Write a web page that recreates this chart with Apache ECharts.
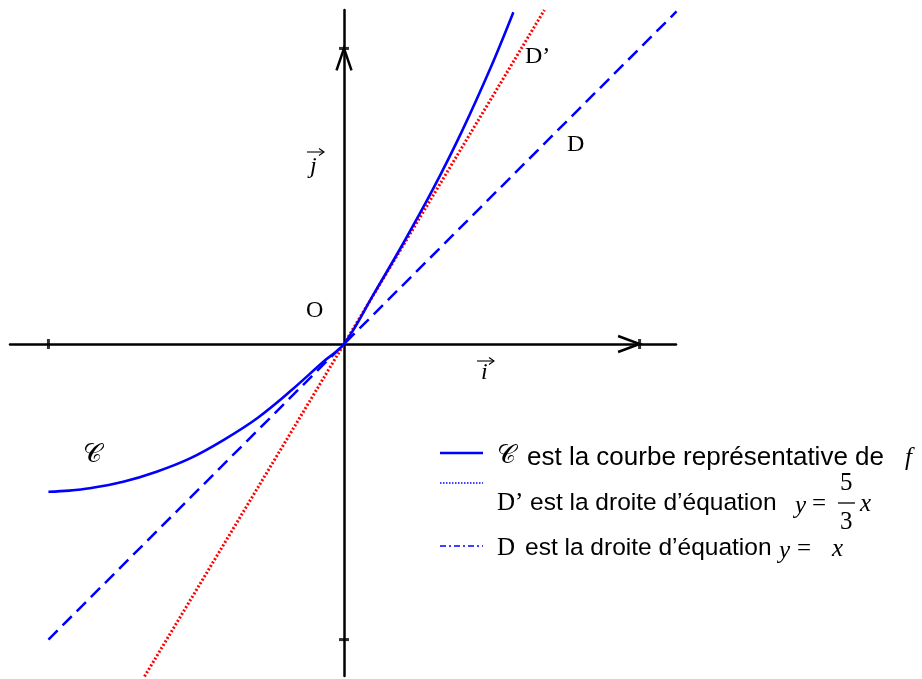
<!DOCTYPE html>
<html><head><meta charset="utf-8">
<script src="https://cdn.jsdelivr.net/npm/echarts@6/dist/echarts.min.js"></script>
<style>html,body{margin:0;padding:0;background:#fff}#c{width:922px;height:679px}</style>
</head><body><div id="c"></div>
<script>
// Curve C
const curveX = [-1, -0.93, -0.86, -0.747, -0.634, -0.521, -0.408, -0.295, -0.183, -0.07, 0, 0.1, 0.2, 0.3, 0.4, 0.5, 0.573];
const curveY = [-0.5, -0.496, -0.488, -0.466, -0.432, -0.387, -0.325, -0.252, -0.161, -0.06, 0, 0.168, 0.34, 0.522, 0.722, 0.944, 1.1225];
// Line D : y = x
const lineDX = [-1, 1.125];
const lineDY = [-1, 1.125];
// Line D' : y = 5/3 x
const lineDpX = [-0.675, 0.678];
const lineDpY = [-1.125, 1.13];
// Tick positions
const xTicks = [-1, 1];
const yTicks = [-1, 1];
// Texts
const legendRow1 = ['𝒞', 'est la courbe représentative de', 'f'];
const legendRow2 = ['D’', 'est la droite d’équation', 'y', '=', '5', '3', 'x'];
const legendRow3 = ['D', 'est la droite d’équation', 'y', '=', 'x'];
const curveLabels = { Dp: 'D’', D: 'D', O: 'O', C: '𝒞', i: 'i', j: 'j' };

const X_MIN = -1.13, X_MAX = 1.1232, Y_MIN = -1.1232, Y_MAX = 1.13;
const zip = (a, b) => a.map((v, i) => [v, b[i]]);
const chart = echarts.init(document.getElementById('c'), null, { renderer: 'canvas' });
const axisCommon = {
  type: 'value',
  axisLine: { onZero: true, lineStyle: { color: '#000', width: 2.5 } },
  axisTick: { show: false }, axisLabel: { show: false }, splitLine: { show: false }
};
chart.setOption({
  animation: false,
  backgroundColor: '#fff',
  grid: { left: 10, top: 10, width: 666, height: 666 },
  xAxis: Object.assign({ min: X_MIN, max: X_MAX }, axisCommon),
  yAxis: Object.assign({ min: Y_MIN, max: Y_MAX }, axisCommon),
  series: [
    { type: 'line', data: zip(lineDX, lineDY), symbol: 'none', lineStyle: { color: '#0000ff', width: 2.5, type: [13, 7] }, z: 3 },
    { type: 'line', data: zip(lineDpX, lineDpY), symbol: 'none', lineStyle: { color: '#ff0000', width: 3, type: [2, 2] }, z: 3 },
    { type: 'line', data: zip(curveX, curveY), symbol: 'none', smooth: 0.35, lineStyle: { color: '#0000ff', width: 2.6 }, z: 4 },
    { type: 'scatter', data: xTicks.map(v => [v, 0]), symbol: 'rect', symbolSize: [3, 10], itemStyle: { color: '#000' }, z: 5 },
    { type: 'scatter', data: yTicks.map(v => [0, v]), symbol: 'rect', symbolSize: [10, 3], itemStyle: { color: '#000' }, z: 5 }
  ]
});

const px = (x, y) => chart.convertToPixel({ gridIndex: 0 }, [x, y]);
const ax = px(1, 0), ay = px(0, 1);
const serif = '"Liberation Serif", "Times New Roman", serif';
const sans = '"Liberation Sans", Arial, sans-serif';
const T = (text, x, y, size, family, extra) => ({
  type: 'text', x: x, y: y, z: 10,
  style: Object.assign({ text: text, fontSize: size, fontFamily: family, fill: '#000', align: 'left', verticalAlign: 'middle' }, extra || {})
});
const L = (x1, y1, x2, y2, color, width, dash) => ({
  type: 'line', z: 10, shape: { x1, y1, x2, y2 },
  style: { stroke: color, lineWidth: width, lineDash: dash || null }
});
const P = (pts, width) => ({ type: 'polyline', z: 10, shape: { points: pts }, style: { stroke: '#000', lineWidth: width, fill: null } });
const vecArrow = (x1, x2, y) => [L(x1, y, x2, y, '#000', 1.1), P([[x2 - 5, y - 3.5], [x2, y], [x2 - 5, y + 3.5]], 1.1)];
const graphics = [
  P([[ax[0] - 21.5, ax[1] - 8], [ax[0], ax[1]], [ax[0] - 21.5, ax[1] + 8]], 2.5),
  P([[ay[0] - 7.5, ay[1] + 22], [ay[0], ay[1]], [ay[0] + 7.5, ay[1] + 22]], 2.5),
  T(curveLabels.Dp, 525, 57, 24, serif),
  T(curveLabels.D, 567, 145, 24, serif),
  T(curveLabels.O, 306, 311, 24, serif),
  T(curveLabels.C, 83, 455, 26, serif),
  ...vecArrow(307, 324, 152),
  T(curveLabels.j, 310, 167, 24, serif, { fontStyle: 'italic' }),
  ...vecArrow(477, 494, 361),
  T(curveLabels.i, 481, 373, 24, serif, { fontStyle: 'italic' }),
  // legend row 1
  L(440, 453, 483, 453, '#0000ff', 2.5),
  T(legendRow1[0], 497, 456, 26, serif),
  T(legendRow1[1], 527, 458, 26, sans),
  T(legendRow1[2], 905, 458, 25, serif, { fontStyle: 'italic' }),
  // legend row 2
  L(440, 483, 483, 483, '#0000ff', 1.3, [1.5, 1.5]),
  T(legendRow2[0], 497, 503, 25, serif),
  T(legendRow2[1], 530, 503, 24.5, sans),
  T(legendRow2[2], 795, 506, 25, serif, { fontStyle: 'italic' }),
  T(legendRow2[3], 812, 504, 25, serif),
  T(legendRow2[4], 840, 483, 25, serif),
  L(838, 503, 855, 503, '#000', 1.3),
  T(legendRow2[5], 840, 522, 25, serif),
  T(legendRow2[6], 860, 504, 25, serif, { fontStyle: 'italic' }),
  // legend row 3
  L(440, 546, 483, 546, '#0000ff', 1.5, [6, 3, 2, 3]),
  T(legendRow3[0], 497, 548, 25, serif),
  T(legendRow3[1], 525, 548, 24.5, sans),
  T(legendRow3[2], 779, 551, 25, serif, { fontStyle: 'italic' }),
  T(legendRow3[3], 797, 549, 25, serif),
  T(legendRow3[4], 832, 549, 25, serif, { fontStyle: 'italic' })
];
chart.setOption({ graphic: graphics });
</script></body></html>
